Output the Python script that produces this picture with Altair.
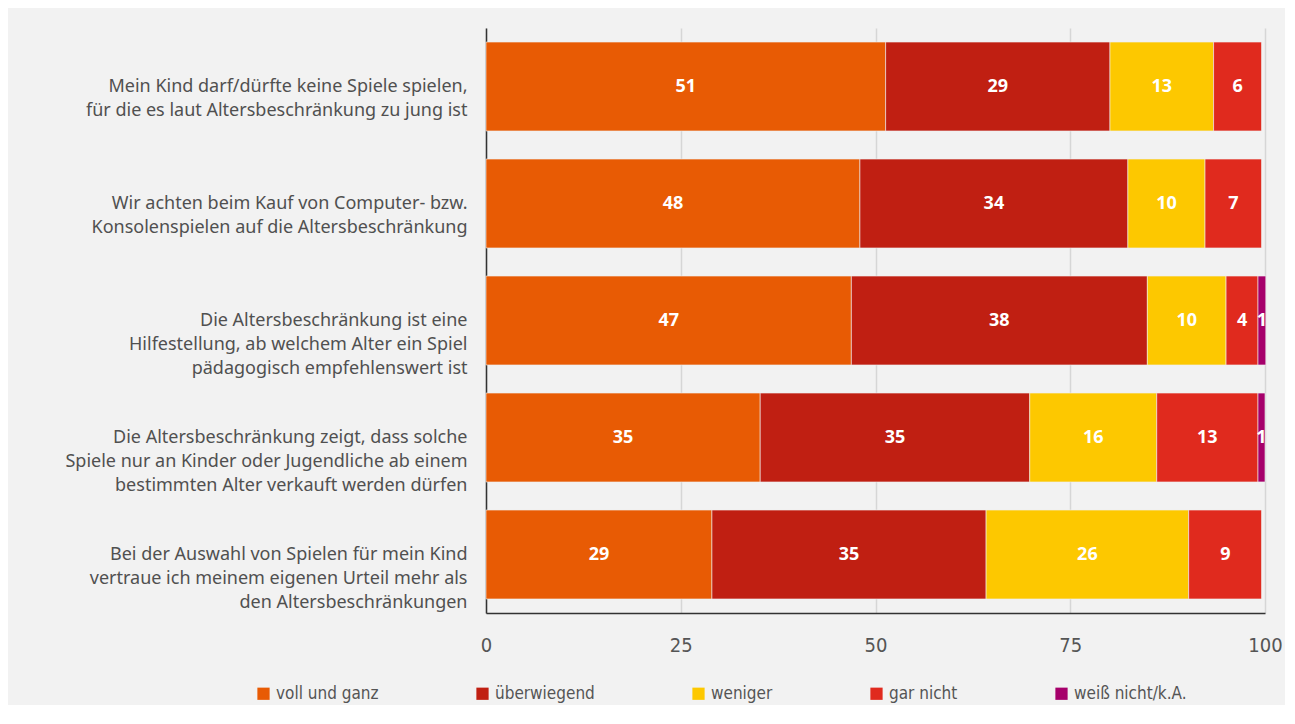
import altair as alt
import pandas as pd

questions = [
    "Mein Kind darf/dürfte keine Spiele spielen,|für die es laut Altersbeschränkung zu jung ist",
    "Wir achten beim Kauf von Computer- bzw.|Konsolenspielen auf die Altersbeschränkung",
    "Die Altersbeschränkung ist eine|Hilfestellung, ab welchem Alter ein Spiel|pädagogisch empfehlenswert ist",
    "Die Altersbeschränkung zeigt, dass solche|Spiele nur an Kinder oder Jugendliche ab einem|bestimmten Alter verkauft werden dürfen",
    "Bei der Auswahl von Spielen für mein Kind|vertraue ich meinem eigenen Urteil mehr als|den Altersbeschränkungen",
]
answers = ["voll und ganz", "überwiegend", "weniger", "gar nicht", "weiß nicht/k.A."]
colors = ["#e85b04", "#c01f12", "#fdc800", "#e02a1e", "#a6006b"]

voll = [51.3, 48.0, 46.9, 35.2, 29.0]
ueber = [28.8, 34.4, 38.0, 34.6, 35.2]
weniger = [13.3, 9.9, 10.1, 16.3, 26.0]
gar = [6.2, 7.3, 4.1, 13.0, 9.4]
weiss = [0.0, 0.0, 1.0, 0.9, 0.0]
series = [voll, ueber, weniger, gar, weiss]

rows = []
for ai, (ans, vals) in enumerate(zip(answers, series)):
    for q, v in zip(questions, vals):
        rows.append({"question": q, "answer": ans, "value": v, "ord": ai})
df = pd.DataFrame(rows)

base = alt.Chart(df).transform_stack(
    stack="value", groupby=["question"], sort=[alt.SortField("ord")], as_=["x0", "x1"]
).transform_calculate(mid="(datum.x0 + datum.x1) / 2")

y_enc = alt.Y(
    "question:N",
    sort=questions,
    title=None,
    scale=alt.Scale(paddingInner=0.24, paddingOuter=0.12),
    axis=alt.Axis(
        labelExpr="split(datum.label, '|')",
        labelFontSize=18,
        labelColor="#505050",
        labelFont="Noto Sans",
        labelLineHeight=24,
        labelPadding=19,
        ticks=False,
        domain=True,
        domainColor="#333333",
        domainWidth=1.5,
        grid=False,
        labelLimit=500,
    ),
)

bars = base.mark_bar(stroke="#f2f2f2", strokeWidth=0.6).encode(
    x=alt.X(
        "x0:Q",
        scale=alt.Scale(domain=[0, 100], nice=False),
        title=None,
        axis=alt.Axis(
            values=[0, 25, 50, 75, 100],
            labelFontSize=20,
            labelColor="#555555",
            labelFont="DejaVu Sans Condensed",
            labelPadding=22,
            ticks=False,
            domain=True,
            domainColor="#333333",
            domainWidth=1.5,
            grid=True,
            gridColor="#d6d6d6",
            gridWidth=1.5,
            labelFlush=False,
        ),
    ),
    x2="x1:Q",
    y=y_enc,
    color=alt.Color(
        "answer:N",
        sort=answers,
        scale=alt.Scale(domain=answers, range=colors),
        legend=alt.Legend(
            title=None,
            orient="none",
            direction="horizontal",
            legendX=-231,
            legendY=657,
            symbolType="square",
            symbolSize=150,
            symbolStrokeWidth=0,
            labelFontSize=17,
            labelFont="DejaVu Sans Condensed",
            labelColor="#555555",
            labelOffset=4,
            columnPadding=95,
        ),
    ),
)

labels = base.transform_filter("datum.value > 0").mark_text(
    color="white", fontSize=18, fontWeight="bold", font="Noto Sans"
).encode(
    x="mid:Q",
    y=alt.Y("question:N", sort=questions),
    text=alt.Text("value:Q", format=".0f"),
)

chart = (
    alt.layer(bars, labels)
    .properties(
        width=779,
        height=585,
        autosize=alt.AutoSizeParams(type="none"),
        padding={"left": 478, "top": 20, "right": 20, "bottom": 92},
        background="#f2f2f2",
    )
    .configure_view(stroke=None)
)

chart.save("out.html", embed_options={"renderer": "svg", "actions": False})
